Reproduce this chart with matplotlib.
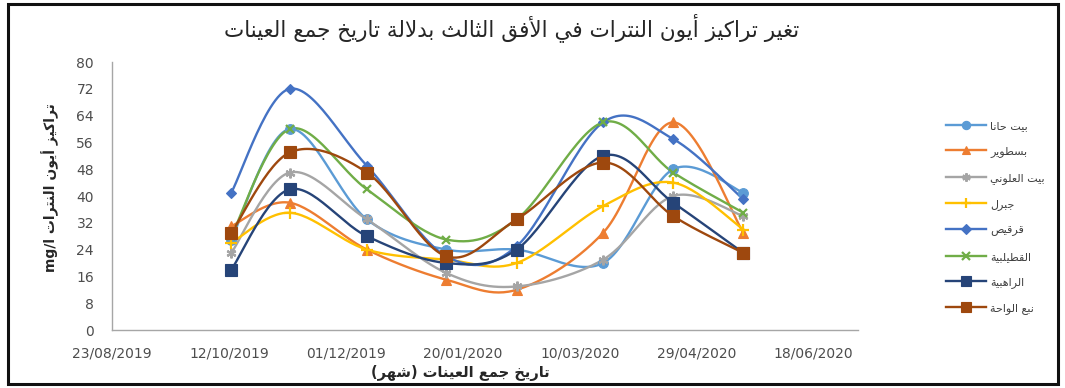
import datetime as dt
import numpy as np
import matplotlib
matplotlib.use("Agg")
import matplotlib.pyplot as plt
import matplotlib.dates as mdates
from matplotlib.patches import Rectangle
from matplotlib.lines import Line2D

# ---------------- data ----------------
sample_dates = ["13/10/2019", "07/11/2019", "10/12/2019", "13/01/2020",
                "12/02/2020", "20/03/2020", "19/04/2020", "19/05/2020"]

series_names = ["بيت حانا", "بسطوير", "بيت العلوني", "جبرل",
                "قرقيص", "القطيلبية", "الراهبية", "نبع الواحة"]

bayt_hana = [27, 60, 33, 24, 24, 20, 48, 41]
bastwir = [31, 38, 24, 15, 12, 29, 62, 29]
bayt_alouni = [23, 47, 33, 17, 13, 21, 40, 34]
jabrul = [26, 35, 24, 21, 20, 37, 44, 30]
qarqis = [41, 72, 49, 22, 25, 62, 57, 39]
qutaylbiya = [28, 60, 42, 27, 33, 62, 47, 35]
rahibiya = [18, 42, 28, 20, 24, 52, 38, 23]
nabe_waha = [29, 53, 47, 22, 33, 50, 34, 23]

tick_dates = ["23/08/2019", "12/10/2019", "01/12/2019", "20/01/2020",
              "10/03/2020", "29/04/2020", "18/06/2020"]
x_limits = ["23/08/2019", "07/07/2020"]
y_ticks = [0, 8, 16, 24, 32, 40, 48, 56, 64, 72, 80]

title_text = "تغير تراكيز أيون النترات في الأفق الثالث بدلالة تاريخ جمع العينات"
xlabel_text = "تاريخ جمع العينات (شهر)"
ylabel_text = "تراكيز أيون النترات mg/l"

# ---------------- styles ----------------
colors = ["#5B9BD5", "#ED7D31", "#A5A5A5", "#FFC000",
          "#4472C4", "#70AD47", "#264478", "#9E480E"]
markers = ["o", "^", (6, 2, 0), "+", "D", "x", "s", "s"]
msizes = [7, 7, 7, 8, 5.5, 6, 8, 8]

# ---------------- Arabic shaping ----------------
_DUAL = {0x0626: 0xFE89, 0x0628: 0xFE8F, 0x062A: 0xFE95, 0x062B: 0xFE99,
         0x062C: 0xFE9D, 0x062D: 0xFEA1, 0x062E: 0xFEA5, 0x0633: 0xFEB1,
         0x0634: 0xFEB5, 0x0635: 0xFEB9, 0x0636: 0xFEBD, 0x0637: 0xFEC1,
         0x0638: 0xFEC5, 0x0639: 0xFEC9, 0x063A: 0xFECD, 0x0641: 0xFED1,
         0x0642: 0xFED5, 0x0643: 0xFED9, 0x0644: 0xFEDD, 0x0645: 0xFEE1,
         0x0646: 0xFEE5, 0x0647: 0xFEE9, 0x064A: 0xFEF1}
_RIGHT = {0x0622: 0xFE81, 0x0623: 0xFE83, 0x0624: 0xFE85, 0x0625: 0xFE87,
          0x0627: 0xFE8D, 0x0629: 0xFE93, 0x062F: 0xFEA9, 0x0630: 0xFEAB,
          0x0631: 0xFEAD, 0x0632: 0xFEAF, 0x0648: 0xFEED, 0x0649: 0xFEEF}
_LAM_ALEF = {0x0622: 0xFEF5, 0x0623: 0xFEF7, 0x0625: 0xFEF9, 0x0627: 0xFEFB}


def _joins(c):
    return ord(c) in _DUAL or ord(c) in _RIGHT


def shape(text):
    out = []
    i, n = 0, len(text)
    while i < n:
        c = text[i]
        o = ord(c)
        link_prev = i > 0 and ord(text[i - 1]) in _DUAL
        if o == 0x0644 and i + 1 < n and ord(text[i + 1]) in _LAM_ALEF:
            out.append(chr(_LAM_ALEF[ord(text[i + 1])] + (1 if link_prev else 0)))
            i += 2
            continue
        if o in _DUAL:
            link_next = i + 1 < n and _joins(text[i + 1])
            form = 3 if (link_prev and link_next) else 1 if link_prev else 2 if link_next else 0
            out.append(chr(_DUAL[o] + form))
        elif o in _RIGHT:
            out.append(chr(_RIGHT[o] + (1 if link_prev else 0)))
        else:
            out.append(c)
        i += 1
    return "".join(out)


def ar(text):
    shaped = shape(text)
    runs = []
    for ch in shaped:
        ltr = ch.isascii() and (ch.isalnum() or ch in "/.")
        if runs and runs[-1][0] == ltr:
            runs[-1][1].append(ch)
        else:
            runs.append([ltr, [ch]])
    mirror = {"(": ")", ")": "("}
    pieces = []
    for ltr, chars in reversed(runs):
        if ltr:
            pieces.append("".join(chars))
        else:
            pieces.append("".join(mirror.get(c, c) for c in reversed(chars)))
    return "".join(pieces)


# ---------------- smoothing ----------------
def smooth(xs, ys, steps=30):
    xs = np.asarray(xs, float)
    ys = np.asarray(ys, float)
    px = np.concatenate([[xs[0]], xs, [xs[-1]]])
    py = np.concatenate([[ys[0]], ys, [ys[-1]]])
    t = np.linspace(0, 1, steps)[:, None]
    segs = []
    for i in range(1, len(px) - 2):
        p0 = np.array([px[i - 1], py[i - 1]])
        p1 = np.array([px[i], py[i]])
        p2 = np.array([px[i + 1], py[i + 1]])
        p3 = np.array([px[i + 2], py[i + 2]])
        c1 = p1 + (p2 - p0) / 6.0
        c2 = p2 - (p3 - p1) / 6.0
        b = ((1 - t) ** 3) * p1 + 3 * ((1 - t) ** 2) * t * c1 + 3 * (1 - t) * t ** 2 * c2 + t ** 3 * p2
        segs.append(b if i == 1 else b[1:])
    curve = np.vstack(segs)
    return curve[:, 0], curve[:, 1]


def to_num(s):
    return mdates.date2num(dt.datetime.strptime(s, "%d/%m/%Y"))


# ---------------- figure ----------------
plt.rcParams["font.family"] = ["DejaVu Sans"]
fig = plt.figure(figsize=(10.65, 3.88), dpi=100)
ax = fig.add_axes([112 / 1065, 1 - 330 / 388, (858 - 112) / 1065, (330 - 62) / 388])

x_num = np.array([to_num(s) for s in sample_dates])
all_series = [bayt_hana, bastwir, bayt_alouni, jabrul,
              qarqis, qutaylbiya, rahibiya, nabe_waha]

handles = []
for vals, col, mk, ms in zip(all_series, colors, markers, msizes):
    sx, sy = smooth(x_num, vals)
    ax.plot(sx, sy, color=col, lw=1.7, solid_capstyle="round", zorder=2)
    mew = 1.6 if mk in ("+", "x") or isinstance(mk, tuple) else 0.8
    ax.plot(x_num, vals, linestyle="none", marker=mk, markersize=ms,
            markerfacecolor=col, markeredgecolor=col, markeredgewidth=mew, zorder=3)
    handles.append(Line2D([], [], color=col, lw=1.7, marker=mk, markersize=ms * 0.85,
                          markerfacecolor=col, markeredgecolor=col, markeredgewidth=mew))

ax.set_xlim(to_num(x_limits[0]), to_num(x_limits[1]))
ax.set_ylim(0, 80)
ax.set_yticks(y_ticks)
ax.set_xticks([to_num(s) for s in tick_dates])
ax.set_xticklabels(tick_dates)
ax.tick_params(axis="both", length=0, labelsize=10, labelcolor="#4D4D4D")
ax.tick_params(axis="y", pad=13)
ax.tick_params(axis="x", pad=12)
for side in ("top", "right"):
    ax.spines[side].set_visible(False)
for side in ("left", "bottom"):
    ax.spines[side].set_color("#A6A6A6")
    ax.spines[side].set_linewidth(1.0)

fig.text(512 / 1065, 1 - 28 / 388, ar(title_text), ha="center", va="center",
         fontsize=15.5, color="#262626")
fig.text(460 / 1065, 1 - 373 / 388, ar(xlabel_text), ha="center", va="center",
         fontsize=10.5, fontweight="bold", color="#262626")
fig.text(50 / 1065, 1 - 188 / 388, ar(ylabel_text), ha="center", va="center",
         rotation=90, fontsize=10, fontweight="bold", color="#262626")

fig.legend(handles, [ar(n) for n in series_names], loc="upper left",
           bbox_to_anchor=(936 / 1065, 1 - 111 / 388), frameon=False,
           fontsize=8, handlelength=3.6, handletextpad=0.4,
           labelspacing=1.38, labelcolor="#404040")

fig.patches.append(Rectangle((8 / 1065, 4 / 388), (1058 - 8) / 1065, (384 - 4) / 388,
                             transform=fig.transFigure, fill=False,
                             edgecolor="#111111", linewidth=2.2))

fig.savefig("out.png", dpi=100)
